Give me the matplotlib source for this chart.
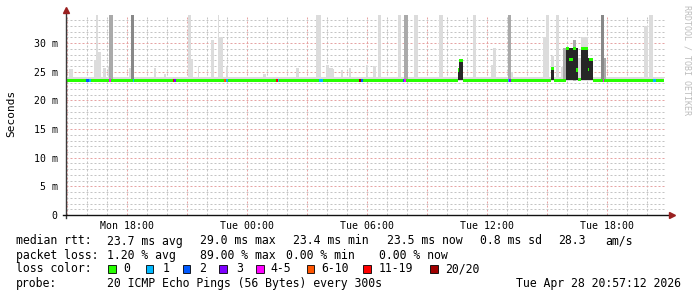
import numpy as np
import matplotlib
matplotlib.use("Agg")
import matplotlib.pyplot as plt

plt.rcParams['font.family'] = ['DejaVu Sans Mono']

# graph start = Mon 14:57 (hours since Mon 00:00), 5 minute steps, 30 hours
t0 = 14.953
step_h = 5 / 60
n_steps = 359

# flat part of the series (ms)
median_base = 23.5
smoke_lo_base = 23.3
smoke_hi_base = 24.1

# smoke spikes: first step, last step, max rtt (ms), grey shade
spike_from = [2, 17, 18, 19, 22, 25, 26, 38, 39, 53, 59, 73, 75, 79, 87, 91, 92, 96,
              118, 138, 150, 156, 158, 160, 165, 170, 180, 184, 187, 199, 203, 209, 224,
              244, 255, 256, 265, 267,
              286, 288, 291, 294, 297, 298, 304, 307, 309, 321, 323, 347, 350]
spike_to = [3, 18, 18, 20, 23, 25, 27, 38, 40, 53, 59, 74, 75, 79, 88, 91, 93, 96,
            119, 139, 152, 157, 159, 160, 165, 170, 180, 185, 188, 200, 204, 210, 225,
            245, 256, 257, 266, 267,
            287, 289, 292, 295, 298, 299, 305, 308, 312, 322, 323, 348, 351]
spike_top = [25.5, 27.0, 35, 28.4, 25.6, 25.9, 35, 25.6, 35, 25.6, 24.6, 35, 27.2, 26.0, 30.5, 35, 31.0, 25.8,
             24.6, 25.6, 35, 26.1, 25.6, 25.5, 25.3, 25.6, 26.1, 26.0, 35, 35, 35, 35, 35,
             35, 26.2, 29.1, 35, 25.0,
             31.0, 35, 27.7, 35, 25.8, 29.1, 30.6, 27.4, 31.0, 35, 27.4, 32.9, 35]
spike_shade = ['L', 'L', 'L', 'L', 'L', 'L', 'M', 'L', 'D', 'L', 'L', 'L', 'L', 'L', 'L', 'L', 'L', 'L',
               'L', 'L', 'L', 'L', 'L', 'L', 'L', 'L', 'L', 'L', 'L', 'L', 'M', 'L', 'L',
               'L', 'L', 'L', 'M', 'L',
               'L', 'L', 'L', 'L', 'L', 'M', 'M', 'L', 'L', 'D', 'M', 'L', 'L']
shade_colors = {'L': '#dcdcdc', 'M': '#aaaaaa', 'D': '#888888'}

# dense (dark) smoke: step, top (ms)
dark_step = [235, 236, 237, 291, 292, 300, 301, 302, 303, 304, 305, 306,
             309, 310, 311, 312, 313, 314, 315]
dark_top = [25.3, 27.1, 27.1, 25.6, 25.6, 29.1, 29.1, 29.1, 29.1, 29.1, 29.1, 29.1,
            29.1, 29.1, 29.1, 29.1, 27.4, 27.1, 27.1]

# median rtt where it leaves the flat line
med_step = [235, 236, 237, 291, 292, 300, 301, 302, 303, 304, 305, 306, 307, 308,
            309, 310, 311, 312, 313, 314, 315]
med_value = [25.3, 27.0, 27.0, 25.6, 25.6, 29.1, 29.1, 27.2, 27.2, 29.1, 29.1, 25.3, 23.6, 23.6,
             29.1, 29.1, 29.1, 29.1, 25.4, 27.1, 27.1]

# packet loss class per step (0 everywhere else)
loss_step = [12, 13, 14, 26, 40, 64, 65, 95, 96, 126, 127, 152, 153, 176, 177,
             202, 203, 265, 266, 322, 352, 353]
loss_class = [2, 2, 1, 4, 1, 6, 3, 5, 1, 6, 1, 1, 1, 7, 2, 2, 4, 1, 3, 4, 1, 1]

loss_labels = ['0', '1', '2', '3', '4-5', '6-10', '11-19', '20/20']
loss_colors = ['#26ff00', '#00b8ff', '#0059ff', '#7e00ff', '#ff00ff', '#ff5500', '#ff0000', '#a00000']

tick_hours = [18, 24, 30, 36, 42]
tick_labels = ['Mon 18:00', 'Tue 00:00', 'Tue 06:00', 'Tue 12:00', 'Tue 18:00']

# build per step series
steps = np.arange(n_steps)
x_left = t0 + steps * step_h
median = np.full(n_steps, median_base)
median[med_step] = med_value
loss = np.zeros(n_steps, dtype=int)
loss[loss_step] = loss_class

fig = plt.figure(figsize=(6.97, 2.97), dpi=100)
ax = fig.add_axes([66 / 697, 82 / 297, 600 / 697, 200 / 297])
ax.set_xlim(t0, t0 + 30)
ax.set_ylim(0, 34.9)

# grid
for h in np.arange(15, 45, 1):
    major = h % 3 == 0
    ax.axvline(h, color='#e6a3a3' if major else '#c4c4c4', lw=0.72, ls=(0, (2, 2)), zorder=0)
for v in range(1, 35):
    major = v % 5 == 0
    ax.axhline(v, color='#e6a3a3' if major else '#c4c4c4', lw=0.72, ls=(0, (2, 2)), zorder=0)

# background smoke
ax.bar(x_left, smoke_hi_base - smoke_lo_base, bottom=smoke_lo_base, width=step_h,
       align='edge', color='#dcdcdc', linewidth=0, zorder=1)
# spikes
for a, b, top, sh in zip(spike_from, spike_to, spike_top, spike_shade):
    idx = np.arange(a, b + 1)
    ax.bar(x_left[idx], top - smoke_lo_base, bottom=smoke_lo_base, width=step_h,
           align='edge', color=shade_colors[sh], linewidth=0, zorder=2)
# dense smoke
ds = np.array(dark_step)
ax.bar(x_left[ds] + step_h * 0.05, np.array(dark_top) - 23.5, bottom=23.5, width=step_h * 0.9,
       align='edge', color='#262626', linewidth=0, zorder=3)
# median coloured by loss
ax.bar(x_left, 0.56, bottom=median - 0.28, width=step_h, align='edge',
       color=[loss_colors[c] for c in loss], linewidth=0, zorder=4)

# axes with arrows
for s in ax.spines.values():
    s.set_visible(False)
ax.plot([t0, t0], [-0.5, 35.6], color='#3a3a3a', lw=1, clip_on=False, zorder=5)
ax.plot([t0 - 0.15, t0 + 30.2], [0, 0], color='#111111', lw=1, clip_on=False, zorder=5)
ax.plot([t0], [35.7], marker='^', color='#9a2020', ms=4.5, clip_on=False, zorder=6)
ax.plot([t0 + 30.3], [0], marker='>', color='#9a2020', ms=4.5, clip_on=False, zorder=6)

ax.set_yticks([0, 5, 10, 15, 20, 25, 30])
ax.set_yticklabels(['0', '5 m', '10 m', '15 m', '20 m', '25 m', '30 m'], fontsize=7.1)
ax.set_xticks(tick_hours)
ax.set_xticklabels(tick_labels, fontsize=7.1)
ax.tick_params(axis='both', length=0, pad=4)
ax.tick_params(axis='y', pad=6)

fig.text(11 / 697, 1 - 113 / 297, 'Seconds', rotation=90, ha='center', va='center', fontsize=8)
fig.text(687 / 697, 1 - 60 / 297, 'RRDTOOL / TOBI OETIKER', rotation=-90, ha='center', va='center',
         fontsize=6, color='#bdbdbd')

fs = 8.3
def line(y, pieces):
    for x, s in pieces:
        fig.text(x / 697, 1 - y / 297, s, ha='left', va='center', fontsize=fs)

line(241, [(16, 'median rtt:'), (107.3, '23.7 ms avg'), (200.5, '29.0 ms max'), (293.3, '23.4 ms min'),
           (386.5, '23.5 ms now'), (479.5, '0.8 ms sd'), (558, '28.3'), (605, 'am/s')])
line(255.5, [(16, 'packet loss:'), (107.3, '1.20 % avg'), (200, '89.00 % max'), (286, '0.00 % min'),
             (379, '0.00 % now')])
line(269, [(16, 'loss color:')])
box_x = [108, 145.7, 182.7, 219.3, 256, 306.7, 363.3, 430]
lab_x = [123, 162.3, 199, 236, 270.7, 321.7, 379, 445]
for bx, lx, lab, col in zip(box_x, lab_x, loss_labels, loss_colors):
    fig.patches.append(plt.Rectangle((bx / 697, 1 - 272.5 / 297), 7.5 / 697, 7.5 / 297,
                                     transform=fig.transFigure, facecolor=col, edgecolor='black', lw=0.6))
    fig.text(lx / 697, 1 - 269 / 297, lab, ha='left', va='center', fontsize=fs)
line(283.3, [(16, 'probe:'), (107.3, '20 ICMP Echo Pings (56 Bytes) every 300s')])
fig.text(681 / 697, 1 - 283.3 / 297, 'Tue Apr 28 20:57:12 2026', ha='right', va='center', fontsize=fs)

fig.savefig('out.png', dpi=100)
